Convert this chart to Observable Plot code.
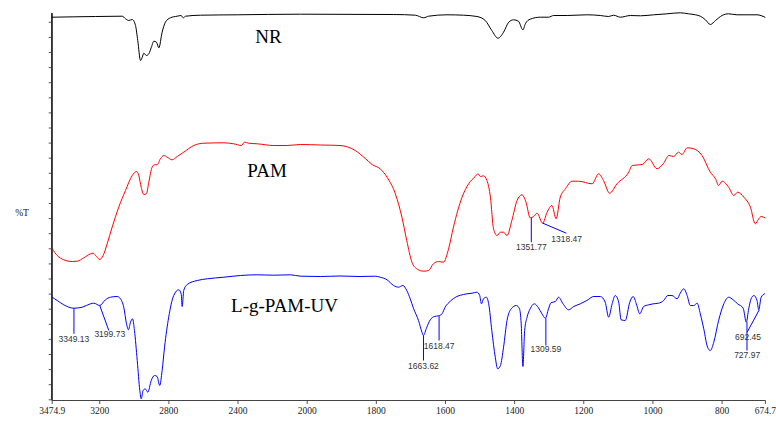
<!DOCTYPE html>
<html><head><meta charset="utf-8">
<script src="https://cdn.jsdelivr.net/npm/d3@7"></script>
<script src="https://cdn.jsdelivr.net/npm/@observablehq/plot@0.6"></script>
<style>html,body{margin:0;padding:0;background:#fff} svg{display:block}</style>
</head><body><div id="chart"></div><script>
// x tick values / labels (wavenumber, cm-1)
const xTickValues = [3474.9, 3200, 2800, 2400, 2000, 1800, 1600, 1400, 1200, 1000, 800, 674.7];
const xTickLabels = ["3474.9", "3200", "2800", "2400", "2000", "1800", "1600", "1400", "1200", "1000", "800", "674.7"];

// NR spectrum
const wnNR = [3475,3224,3070,3051,3032,3012,2993,2980,2964,2954,2945,2930,2916,2901,2887,2872,2858,2839,2820,2791,2752,2729,2717,2704,2617,2405,2039,
  1750,1687,1663,1649,1596,1548,1509,1485,1466,1448,1432,1417,1403,1389,1376,1369,1355,1326,1302,1287,1248,1191,1152,1128,1114,1094,1065,1036,998,959,921,897,877,863,848,834,819,800,781,757,699,676];
const tNR = [383.3,384,384.3,381.7,380,381,375,360,340,343.3,347.3,345,346.7,353.3,359.3,358.3,352.7,368.3,378.3,382.7,384.3,385,382.7,384.3,385.3,385.7,386.3,
  386,385.3,382.7,384.3,385.7,385.3,384,380,370,362.3,368.3,378.3,380.7,379.3,370.7,376.7,381.3,383.3,383.3,385,385,385.7,385,384,385.3,383.3,385,384.7,385.7,386.7,387.7,386.7,385.7,384.3,380.7,376,380,385,386.7,385.7,385.7,383.3];

// PAM spectrum
const wnPAM = [3475,3446,3408,3359,3330,3292,3253,3238,3219,3200,3180,3157,3128,3090,3051,3012,2987,2974,2960,2945,2930,2916,2897,2883,2868,2849,2829,2810,2781,2752,2714,2656,2598,2482,2425,2380,2363,2338,2289,2193,2116,2039,
  1962,1905,1861,1832,1812,1789,1769,1745,1726,1712,1697,1683,1663,1649,1635,1620,1606,1591,1577,1552,1533,1514,1506,1499,1490,1480,1470,1461,1451,1441,1432,1422,1408,1393,1379,1367,1355,1345,1335,1319,1306,1292,1280,1268,1253,1234,1215,1176,1157,1143,1125,1104,1070,1060,1031,1012,988,969,954,940,926,916,901,882,858,834,819,810,800,781,766,755,737,718,704,694,687,676];
const tPAM = [151.7,145,140.7,139,139.3,142.7,146.7,147.3,144,141,145,156.7,173.3,193.3,210,225,229,225,213.3,206,206.7,218.3,233.3,235.7,235.7,241.7,245,243.3,240.7,244,248.3,255,257.3,257.7,256.7,255,258.3,257.3,256.7,255,255,256,
  255.5,255,250,242,236,231.7,223.3,206.7,183.3,160,138.3,131.7,129.3,130,136.7,139,138.3,151.7,173.3,203.3,216.7,224,226.7,224,224.7,220,203.3,171.7,165,168.3,168.3,165,180,200,205.7,198.3,182.7,184,187.3,177.3,188.3,195,181.7,203.3,211.7,219.3,219.3,216.7,226.7,220,207.3,216.7,228.3,235,236,241.7,231.7,237.3,245,244,248.3,246,252.7,251.7,245,228.3,221.7,215,219.3,213.3,205,208.3,203.3,193.3,176.7,181.7,184,182.7];

// L-g-PAM-UV spectrum
const wnUV = [3475,3446,3408,3350,3301,3253,3234,3200,3167,3138,3099,3080,3061,3045,3034,3022,3010,2999,2983,2968,2960,2949,2937,2922,2902,2883,2868,2853,2839,2825,2801,2772,2743,2729,2723,2714,2694,2636,2578,2482,2386,2289,2193,2097,2039,
  1962,1905,1847,1803,1789,1769,1750,1736,1723,1712,1702,1692,1678,1668,1664,1654,1644,1632,1620,1610,1601,1586,1567,1548,1538,1523,1509,1501,1496,1490,1482,1475,1466,1456,1449,1441,1432,1422,1410,1395,1386,1381,1376,1371,1364,1355,1343,1331,1321,1311,1302,1295,1282,1273,1260,1244,1229,1210,1191,1171,1152,1138,1128,1118,1109,1099,1092,1080,1067,1057,1048,1038,1027,1012,999,984,969,957,945,930,921,911,901,892,882,872,863,853,842,834,824,810,795,781,768,755,739,730,723,716,708,699,694,687,677];
const tUV = [103.3,100,95.7,92.3,93.3,96.7,97.3,95,100.7,103.3,104,101.7,93.3,76.7,70.7,78.3,81.7,70,40,10,1.7,10,11.7,8.3,20,25,24,15,30,53.3,83.3,105,110.7,106.7,94,110,116,120,121.7,123.3,125,125.7,125.3,125.7,124.3,
  124,124.5,124,124.3,123.3,120.7,115,113.3,115,110,101.7,91.7,80,68.3,65,73.3,80.7,84,84.7,86.7,93.3,99.3,104,106,106.7,107.3,108.3,105,96.7,101.7,103.3,96.7,70,43.3,31.7,35,53.3,80,91.7,95,91.7,76.7,34,70,83.3,91.7,96.7,92.7,86.7,82.3,91.7,97.7,99,103.3,96.7,90.7,94,96.7,100,104,104,98.3,83.3,96.7,105,98.3,80.7,80,98.3,104,96.7,86.7,94,95.7,96.7,97.3,100,105,105,101.7,107.3,111.7,105,95,95,97.3,86.7,71.7,53.3,50,58.3,80,96.7,103.3,100.7,96.7,92.3,78.3,91.7,101.7,105,100,90.7,103.3,106.7];

// peak annotations
const peakLabels = ["3349.13", "3199.73", "1663.62", "1618.47", "1309.59", "727.97", "692.45", "1351.77", "1318.47"];
const peakWn = [3349.13, 3199.73, 1663.62, 1618.47, 1309.59, 727.97, 692.45, 1351.77, 1318.47];
const peakT = [92.3, 95, 65, 84.7, 82.3, 78.3, 90.7, 182.7, 177.3];
const leaderEndWn = [3349.13, 3147.5, 1663.62, 1618.47, 1309.59, 727.97, 727.5, 1351.77, 1250.5];
const leaderEndT = [66.7, 70, 40, 60, 55, 50, 68.3, 158.3, 167.3];
const labelWn = [3349.13, 3142, 1663.62, 1618.47, 1309.59, 727.5, 725, 1351.77, 1249.6];
const labelT = [61.7, 66, 34, 54.3, 51.7, 45, 63.3, 153.3, 161.7];

// series names
const seriesNames = ["NR", "PAM", "L-g-PAM-UV"];
const seriesColors = ["#000000", "#ff0000", "#0000ff"];
const seriesNameWn = [2224, 2232, 2131];
const seriesNameT = [358, 224, 89];

// The instrument axis is expanded 2x below 2000 cm-1 (axis break in scale)
const stretch = w => (w >= 2000 ? w : 2000 - (2000 - w) * 2);

const toRows = (w, t) => w.map((d, i) => ({w: stretch(d), t: t[i]}));
const nr = toRows(wnNR, tNR), pam = toRows(wnPAM, tPAM), uv = toRows(wnUV, tUV);
const peaks = peakLabels.map((l, i) => ({l, w: stretch(peakWn[i]), t: peakT[i], w2: stretch(leaderEndWn[i]), t2: leaderEndT[i], lw: stretch(labelWn[i]), lt: labelT[i]}));
const names = seriesNames.map((n, i) => ({n, w: stretch(seriesNameWn[i]), t: seriesNameT[i]}));
const yTicks = d3.range(0, 26).map(i => 0.7 + i * 15.1);
const serif = "'Liberation Serif', 'Times New Roman', serif";
const axisBar = [{x1: 3474.9, x2: 3474.9, y1: 0, y2: 387}];

const chart = Plot.plot({
  width: 776, height: 421,
  marginLeft: 51.7, marginRight: 11.1, marginTop: 13, marginBottom: 21,
  style: {background: "#fff", fontFamily: serif, fontSize: "9.5px", color: "#222"},
  x: {type: "linear", domain: [3474.9, stretch(674.7)]},
  y: {type: "linear", domain: [0, 387]},
  marks: [
    Plot.axisX({ticks: xTickValues.map(stretch), tickFormat: (d, i) => xTickLabels[i], tickSize: 4, tickPadding: 3, stroke: "#555", fill: "#222", fontFamily: serif, fontSize: 9.5, label: null}),
    Plot.axisY({ticks: yTicks, tickSize: 3, tickFormat: () => "", stroke: "#555", label: null}),
    Plot.ruleY([0], {stroke: "#444", strokeWidth: 1.2}),
    Plot.rect(axisBar, {x1: "x1", x2: "x2", y1: "y1", y2: "y2", fill: "#333", insetLeft: -0.7, insetRight: -0.7}),
    Plot.ruleX([3474.9], {stroke: "#333", strokeWidth: 1.2}),
    Plot.text(["%T"], {frameAnchor: "left", dx: -37, dy: 5.5, fontSize: 9.5, fontFamily: serif, fill: "#222"}),
    Plot.line(nr, {x: "w", y: "t", stroke: seriesColors[0], strokeWidth: 1, curve: "monotone-x"}),
    Plot.line(pam, {x: "w", y: "t", stroke: seriesColors[1], strokeWidth: 1, curve: "monotone-x"}),
    Plot.line(uv, {x: "w", y: "t", stroke: seriesColors[2], strokeWidth: 1, curve: "monotone-x"}),
    Plot.link(peaks, {x1: "w", y1: "t", x2: "w2", y2: "t2", stroke: "#0000ff", strokeWidth: 1}),
    Plot.text(peaks, {x: "lw", y: "lt", text: "l", fontFamily: "'Liberation Sans', sans-serif", fontSize: 8.5, fill: "#333", lineAnchor: "middle"}),
    Plot.text(names, {x: "w", y: "t", text: "n", fontSize: 19, fontFamily: serif, fill: "#000", lineAnchor: "bottom"})
  ]
});
document.getElementById("chart").appendChild(chart);
</script></body></html>
